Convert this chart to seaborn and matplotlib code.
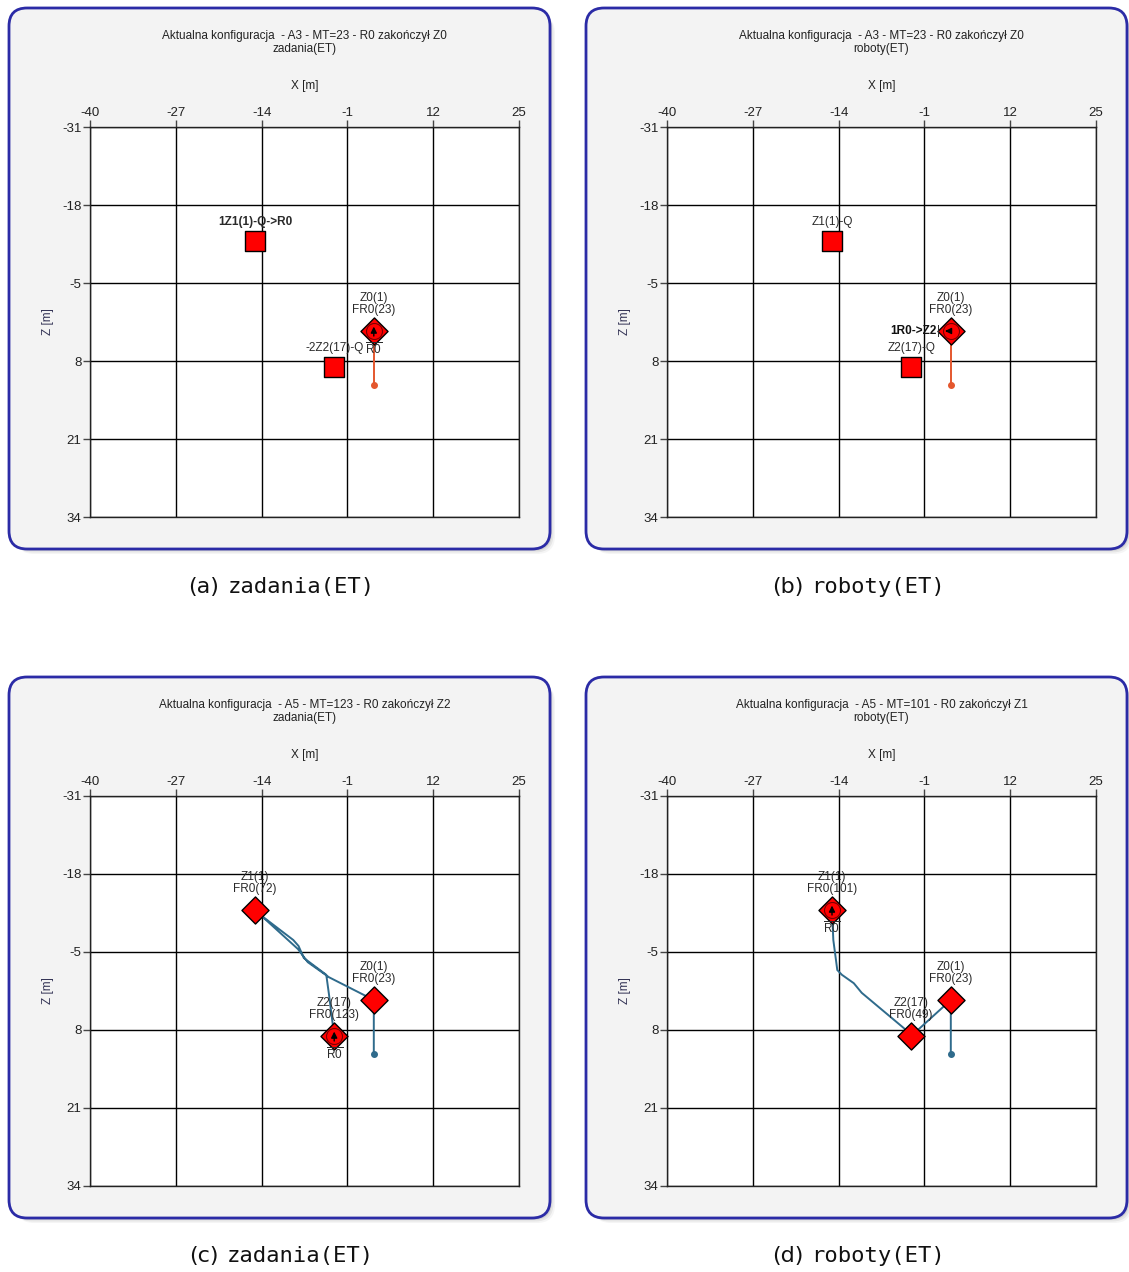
import numpy as np
import pandas as pd
import matplotlib
matplotlib.use("Agg")
import matplotlib.pyplot as plt
import seaborn as sns
from matplotlib.patches import FancyBboxPatch

# ---------------- data ----------------
task_names = ["Z0", "Z1", "Z2"]
task_x = [3, -15, -3]
task_z = [3, -12, 9]

x_ticks = [-40, -27, -14, -1, 12, 25]
z_ticks = [-31, -18, -5, 8, 21, 34]

titles = [
    "Aktualna konfiguracja  - A3 - MT=23 - R0 zakończył Z0\nzadania(ET)",
    "Aktualna konfiguracja  - A3 - MT=23 - R0 zakończył Z0\nroboty(ET)",
    "Aktualna konfiguracja  - A5 - MT=123 - R0 zakończył Z2\nzadania(ET)",
    "Aktualna konfiguracja  - A5 - MT=101 - R0 zakończył Z1\nroboty(ET)",
]
captions_letter = ["(a)", "(b)", "(c)", "(d)"]
captions_word = ["zadania(ET)", "roboty(ET)", "zadania(ET)", "roboty(ET)"]

# task state per panel: True = finished (diamond), False = waiting (square)
task_done = [
    [True, False, False],
    [True, False, False],
    [True, True, True],
    [True, True, True],
]
# labels per panel and task
task_labels = [
    ["Z0(1)\nFR0(23)", "1Z1(1)-Q->R0", "-2Z2(17)-Q"],
    ["Z0(1)\nFR0(23)", "Z1(1)-Q", "Z2(17)-Q"],
    ["Z0(1)\nFR0(23)", "Z1(1)\nFR0(72)", "Z2(17)\nFR0(123)"],
    ["Z0(1)\nFR0(23)", "Z1(1)\nFR0(101)", "Z2(17)\nFR0(49)"],
]
bold_labels = [
    [False, True, False],
    [False, False, False],
    [False, False, False],
    [False, False, False],
]

# robot paths (X, Z)
path_a_x = [3, 3]
path_a_z = [12, 3]
path_b_x = [3, 3]
path_b_z = [12, 3]
path_c_x = [3, 3, -3.8, -7.0, -8.5, -9.5, -14.5, -15, -14.2, -9.2, -8.4, -7.6, -4.2, -3.8, -3]
path_c_z = [12, 3, -0.8, -3.3, -5.5, -6.5, -11.5, -12, -11.2, -7.0, -6.0, -4.0, -1.2, 2.0, 9]
path_d_x = [3, 3, -3, -4.1, -10.5, -11.7, -13.5, -14.2, -14.8, -15]
path_d_z = [12, 3, 9, 7.7, 1.8, 0.2, -1.2, -2.0, -7.0, -12]
paths = [(path_a_x, path_a_z), (path_b_x, path_b_z), (path_c_x, path_c_z), (path_d_x, path_d_z)]
path_colors = ["#e4572e", "#e4572e", "#2f6b8c", "#2f6b8c"]

robot_name = "R0"
robot_task = [0, 0, 2, 1]        # task where robot is
robot_label = ["R0", "1R0->Z2", "R0", "R0"]

# ---------------- layout ----------------
W, H = 1129, 1272
sns.set_theme(style="white")
plt.rcParams["font.family"] = ["Liberation Sans", "DejaVu Sans"]
plt.rcParams["mathtext.fontset"] = "custom"
plt.rcParams["mathtext.rm"] = "Liberation Sans"
plt.rcParams["axes.unicode_minus"] = False

fig = plt.figure(figsize=(W / 100, H / 100), dpi=100)
fig.patch.set_facecolor("white")

def fx(px):
    return px / W

def fy(py):
    return 1 - py / H

panel_origin = [(8, 7), (585, 7), (8, 676), (585, 676)]
PW, PH = 543, 543
caption_pairs = []

for i in range(4):
    ox, oy = panel_origin[i]
    # soft shadow (right and below)
    for k, a in enumerate([0.04, 0.06, 0.08, 0.10]):
        off = 6 - 1.5 * k
        sh = FancyBboxPatch((fx(ox + 2 + off), fy(oy + PH - 2 + off)), fx(PW - 4), (PH - 4) / H,
                            boxstyle="round,pad=0.0,rounding_size=0.016",
                            transform=fig.transFigure, facecolor="black",
                            edgecolor="none", alpha=a, zorder=0,
                            mutation_aspect=W / H)
        fig.patches.append(sh)
    frame = FancyBboxPatch((fx(ox + 1), fy(oy + PH - 1)), fx(PW - 2), (PH - 2) / H,
                           boxstyle="round,pad=0.0,rounding_size=0.016",
                           transform=fig.transFigure, facecolor="#f3f3f3",
                           edgecolor="#2b2ba6", linewidth=2.0, zorder=1,
                           mutation_aspect=W / H)
    fig.patches.append(frame)

    # axes
    ax_l = ox + 82
    ax_t = oy + 120
    ax = fig.add_axes([fx(ax_l), fy(ax_t + 390), fx(429), 390 / H])
    ax.set_zorder(2)
    ax.set_facecolor("white")

    df = pd.DataFrame({"name": task_names, "X": task_x, "Z": task_z,
                       "done": task_done[i]})

    # path
    px, pz = paths[i]
    pdf = pd.DataFrame({"X": px, "Z": pz})
    sns.lineplot(data=pdf, x="X", y="Z", sort=False, estimator=None, ax=ax,
                 color=path_colors[i], linewidth=1.4, zorder=3)
    ax.plot(px[0], pz[0], "o", color=path_colors[i], markersize=4, zorder=3)

    # tasks
    sq = df[~df["done"]]
    dm = df[df["done"]]
    if len(sq):
        sns.scatterplot(data=sq, x="X", y="Z", marker="s", s=210, color="#ff0000",
                        edgecolor="black", linewidth=1.0, ax=ax, zorder=4, legend=False)
    if len(dm):
        sns.scatterplot(data=dm, x="X", y="Z", marker="D", s=190, color="#ff0000",
                        edgecolor="black", linewidth=1.0, ax=ax, zorder=4, legend=False)

    # robot
    rt = robot_task[i]
    rx, rz = task_x[rt], task_z[rt]
    ax.plot(rx, rz, "o", color="#ff0000", markersize=11.5, markeredgecolor="#7a0000",
            markeredgewidth=0.8, zorder=5)
    if i == 1:
        ax.annotate("", xy=(rx - 1.3, rz), xytext=(rx, rz),
                    arrowprops=dict(arrowstyle="-|>", color="black", lw=1.0,
                                    mutation_scale=9), zorder=6)
    else:
        ax.annotate("", xy=(rx, rz - 1.2), xytext=(rx, rz + 1.3),
                    arrowprops=dict(arrowstyle="-|>", color="black", lw=1.0,
                                    mutation_scale=9), zorder=6)

    # task labels
    for j in range(3):
        lab = task_labels[i][j]
        dy = 11 if task_done[i][j] else 9
        ax.annotate(lab, xy=(task_x[j], task_z[j]), xytext=(0, dy),
                    textcoords="offset points", ha="center", va="bottom",
                    fontsize=8.5, color="#2a2a2a", linespacing=0.95,
                    fontweight="bold" if bold_labels[i][j] else "normal", zorder=7)

    # robot label
    if i == 1:
        ax.annotate(robot_label[i], xy=(rx, rz), xytext=(-10, 0),
                    textcoords="offset points", ha="right", va="center",
                    fontsize=8.5, fontweight="bold", color="#111111", zorder=7)
        ax.annotate("|", xy=(rx, rz), xytext=(-8, 0), textcoords="offset points",
                    ha="right", va="center", fontsize=8.5, color="#333333", zorder=7)
    else:
        ax.annotate(r"$\overline{\mathrm{" + robot_label[i] + "}}$", xy=(rx, rz),
                    xytext=(0, -8), textcoords="offset points", ha="center", va="top",
                    fontsize=8.5, color="#2a2a2a", zorder=7)

    # axes formatting
    ax.set_xlim(x_ticks[0], x_ticks[-1])
    ax.set_ylim(z_ticks[-1], z_ticks[0])
    ax.set_xticks(x_ticks)
    ax.set_yticks(z_ticks)
    ax.xaxis.tick_top()
    ax.xaxis.set_label_position("top")
    ax.grid(True, color="black", linewidth=1.0)
    ax.set_axisbelow(True)
    for sp in ax.spines.values():
        sp.set_visible(True)
        sp.set_color("#222222")
        sp.set_linewidth(1.0)
    ax.tick_params(axis="both", which="both", direction="out", length=5, width=1,
                   color="#444444", labelsize=9.5, labelcolor="#222222", pad=1,
                   top=True, left=True, bottom=False, right=False)
    ax.set_xlabel("X [m]", fontsize=8.5, color="#222222", labelpad=13)
    ax.set_ylabel("Z [m]", fontsize=8.5, color="#333355", labelpad=6)
    ax.set_title(titles[i], fontsize=8.5, color="#222222", pad=54, linespacing=1.1)

    # caption
    cx = ox + PW / 2 + 2
    cy = oy + PH + 37
    t1 = fig.text(fx(cx), fy(cy), captions_letter[i], ha="left", va="center",
                  fontsize=16, family="DejaVu Sans", color="#111111")
    t2 = fig.text(fx(cx), fy(cy), captions_word[i], ha="left", va="center",
                  fontsize=16, family="DejaVu Sans Mono", color="#111111")
    caption_pairs.append((t1, t2, cx, cy))

# center captions
fig.canvas.draw()
r = fig.canvas.get_renderer()
gap = 8
for t1, t2, cx, cy in caption_pairs:
    w1 = t1.get_window_extent(r).width
    w2 = t2.get_window_extent(r).width
    left = cx - (w1 + gap + w2) / 2
    t1.set_position((fx(left), fy(cy)))
    t2.set_position((fx(left + w1 + gap), fy(cy)))

fig.savefig("out.png", dpi=100, facecolor="white")
